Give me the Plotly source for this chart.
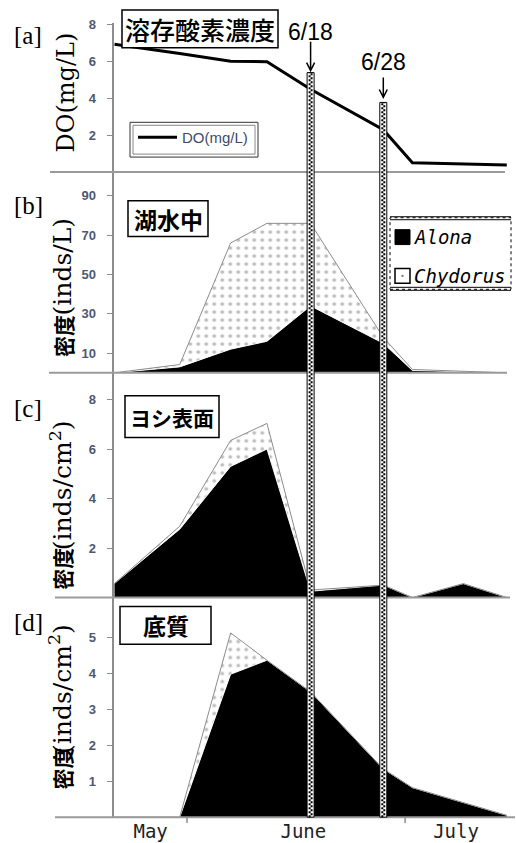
import plotly.graph_objects as go

# ---- data -------------------------------------------------------------
sample_dates = ["2013-05-22", "2013-05-31", "2013-06-07", "2013-06-12", "2013-06-18",
                "2013-06-28", "2013-07-02", "2013-07-09", "2013-07-15"]

# [a] dissolved oxygen (mg/L)
do_mgL = [6.95, 6.45, 6.02, 6.0, 4.5, 2.3, 0.5, 0.42, 0.38]

# [b] lake water (inds/L)
alona_lake = [0, 3, 12, 16, 34, 15, 1.2, 0.6, 0]
chydorus_lake = [0, 1.2, 54, 60, 42, 3, 0.5, 0.3, 0]

# [c] reed surface (inds/cm2)
alona_reed = [0.56, 2.76, 5.3, 6.0, 0.25, 0.5, 0, 0.56, 0]
chydorus_reed = [0, 0.12, 1.05, 1.04, 0.05, 0, 0, 0, 0]

# [d] sediment (inds/cm2)
alona_sed = [0, 0, 3.97, 4.36, 3.48, 1.34, 0.82, 0.4, 0.05]
chydorus_sed = [0, 0, 1.15, 0, 0, 0, 0, 0, 0]

month_centers = ["2013-05-27", "2013-06-17", "2013-07-08"]
month_names = ["May", "June", "July"]
month_starts = ["2013-06-01", "2013-07-01"]
event_dates = ["2013-06-18", "2013-06-28"]
event_labels = ["6/18", "6/28"]
x_range = ["2013-05-22", "2013-07-15"]

panel_titles = ["溶存酸素濃度", "湖水中", "ヨシ表面", "底質"]
panel_tags = ["[a]", "[b]", "[c]", "[d]"]

# ---- page geometry helpers ---------------------------------------------
W, H = 516, 843


def px(x):
    return x / W


def py(y):
    return 1 - y / H


X_DOMAIN = [px(114.3), px(506.9)]
AXIS_GREY = "#8c8c8c"
TICK_FONT = dict(family="Liberation Sans", size=13, color="#4f5872", weight="bold")
DOTS = dict(shape=".", fgcolor="#7a7a7a", bgcolor="white", size=8, solidity=0.17)

fig = go.Figure()

# [a] DO line
fig.add_trace(go.Scatter(x=sample_dates, y=do_mgL, mode="lines",
                         line=dict(color="black", width=3),
                         xaxis="x", yaxis="y", showlegend=False))

# stacked areas for [b]-[d]
stacks = [(alona_lake, chydorus_lake, "2"), (alona_reed, chydorus_reed, "3"),
          (alona_sed, chydorus_sed, "4")]
for alona, chydorus, k in stacks:
    fig.add_trace(go.Scatter(x=sample_dates, y=alona, mode="lines", stackgroup="s" + k,
                             line=dict(color="white", width=0.8), fillcolor="black",
                             xaxis="x" + k, yaxis="y" + k, showlegend=False))
    fig.add_trace(go.Scatter(x=sample_dates, y=chydorus, mode="lines", stackgroup="s" + k,
                             line=dict(color="#8c8c8c", width=1), fillcolor="white",
                             fillpattern=DOTS,
                             xaxis="x" + k, yaxis="y" + k, showlegend=False))

# axes: (top px, bottom px, y range, tick values)
panels = [(18, 168, [0, 8.11], [2, 4, 6, 8]),
          (168, 370, [0, 102.1], [10, 30, 50, 70, 90]),
          (370, 596, [0, 9.085], [2, 4, 6, 8]),
          (596, 817, [0, 6.105], [1, 2, 3, 4, 5])]

layout = dict(width=W, height=H, margin=dict(l=0, r=0, t=0, b=0),
              paper_bgcolor="white", plot_bgcolor="rgba(0,0,0,0)", showlegend=False)

for i, (top, bot, yr, tv) in enumerate(panels):
    sfx = "" if i == 0 else str(i + 1)
    layout["xaxis" + sfx] = dict(domain=X_DOMAIN, range=x_range, type="date",
                                 anchor="y" + sfx, showgrid=False, zeroline=False,
                                 showline=False, showticklabels=False, ticks="")
    layout["yaxis" + sfx] = dict(domain=[py(bot), py(top)], range=yr, anchor="x" + sfx,
                                 tickvals=tv, showgrid=False, zeroline=False,
                                 showline=True, linecolor=AXIS_GREY, linewidth=1.5,
                                 ticks="outside", ticklen=6, tickcolor=AXIS_GREY,
                                 tickfont=TICK_FONT, ticklabelstandoff=8)

layout["xaxis4"].update(showticklabels=True, tickvals=month_centers, ticktext=month_names,
                        tickfont=dict(family="DejaVu Sans Mono", size=19, color="#222"),
                        ticklabelstandoff=1)

fig.update_layout(**layout)

shapes = []
annotations = []


def note(text, x, y, size, family, color="black", xanchor="center", angle=0, weight="normal"):
    annotations.append(dict(x=px(x), y=py(y), xref="paper", yref="paper", text=text,
                            xanchor=xanchor, yanchor="middle", textangle=angle,
                            showarrow=False,
                            font=dict(family=family, size=size, color=color, weight=weight)))


# baselines between panels
for y0, xl, xr in [(168, 50, 505), (370, 49, 507), (596, 55, 510), (817, 55, 515)]:
    shapes.append(dict(type="line", xref="paper", yref="paper", x0=px(xl), x1=px(xr),
                       y0=py(y0), y1=py(y0), line=dict(color="#9a9a9a", width=2)))

# month boundary ticks on the bottom axis
for d in month_starts:
    shapes.append(dict(type="line", xref="x4", yref="paper", x0=d, x1=d,
                       y0=py(817), y1=py(823), line=dict(color=AXIS_GREY, width=1.5)))

# hatched marker columns with arrows and date labels
for d, lab, top, a0, a1, ly in zip(event_dates, event_labels, [68, 98], [37, 73], [66, 93], [27, 57]):
    shapes.append(dict(type="rect", xref="x", xsizemode="pixel", xanchor=d, x0=-3.5, x1=3.5,
                       yref="paper", y0=py(817), y1=py(top), fillcolor="white",
                       line=dict(color="black", width=1), layer="above"))
    shapes.append(dict(type="line", xref="x", xsizemode="pixel", xanchor=d, x0=-1, x1=-1,
                       yref="paper", y0=py(817), y1=py(top),
                       line=dict(color="black", width=2, dash="2px,2px")))
    shapes.append(dict(type="line", xref="x", xsizemode="pixel", xanchor=d, x0=1, x1=1,
                       yref="paper", y0=py(817), y1=py(top),
                       line=dict(color="black", width=2, dash="0px,2px,2px,0px")))
    shapes.append(dict(type="path", xref="x", xsizemode="pixel", xanchor=d, yref="paper",
                       path=f"M 0,{py(a0)} L 0,{py(a1)} M -4,{py(a1 - 8)} L 0,{py(a1)} L 4,{py(a1 - 8)}",
                       line=dict(color="black", width=1.5)))
    annotations.append(dict(x=d, xref="x", y=py(ly), yref="paper", text=lab, showarrow=False,
                            xanchor="center", yanchor="middle",
                            font=dict(family="Liberation Sans", size=23, color="black")))

# panel title boxes
boxes = [(122, 5, 278, 43, 25, 500), (128, 197, 208, 233, 23, 700),
         (125, 393, 219, 435, 21, 700), (120, 605, 211, 643, 23, 700)]
for (x0, y0, x1, y1, fs, wt), title in zip(boxes, panel_titles):
    shapes.append(dict(type="rect", xref="paper", yref="paper", x0=px(x0), x1=px(x1),
                       y0=py(y1), y1=py(y0), fillcolor="white",
                       line=dict(color="black", width=1.5)))
    note(title, (x0 + x1) / 2, (y0 + y1) / 2, fs, "Noto Sans CJK JP", weight=wt)

# panel tags
for tag, yc in zip(panel_tags, [31, 202, 406, 621]):
    note(tag, 28, yc, 25, "Liberation Serif")

# y-axis titles (rotated, read bottom to top)
note("DO(mg/L)", 66, 88, 24, "DejaVu Serif", angle=-90)
for unit, xc, cjk_y, unit_y in [("(inds/L)", 62, 333, 264),
                                ("(inds/cm<sup>2</sup>)", 61, 567, 483),
                                ("(inds/cm<sup>2</sup>)", 61, 768, 688)]:
    note("密度", xc + 1, cjk_y, 21, "Noto Sans CJK JP", angle=-90, weight="bold")
    note(unit, xc, unit_y, 25, "DejaVu Serif", angle=-90)

# legend for [a]
shapes.append(dict(type="rect", xref="paper", yref="paper", x0=px(130), x1=px(258),
                   y0=py(153), y1=py(118), fillcolor="white", line=dict(color="#333", width=1)))
shapes.append(dict(type="rect", xref="paper", yref="paper", x0=px(133), x1=px(255),
                   y0=py(150), y1=py(121), line=dict(color="#888", width=1)))
shapes.append(dict(type="line", xref="paper", yref="paper", x0=px(138), x1=px(177),
                   y0=py(133), y1=py(133), line=dict(color="black", width=3)))
note("DO(mg/L)", 180, 133, 15, "Liberation Sans", color="#3f4a6e", xanchor="left")

# legend for [b]
shapes.append(dict(type="rect", xref="paper", yref="paper", x0=px(390), x1=px(511),
                   y0=py(286), y1=py(214), fillcolor="white",
                   line=dict(color="black", width=1, dash="dot")))
for yl in [213, 216, 284, 287]:
    shapes.append(dict(type="line", xref="paper", yref="paper", x0=px(390), x1=px(511),
                       y0=py(yl), y1=py(yl), line=dict(color="black", width=1)))
shapes.append(dict(type="rect", xref="paper", yref="paper", x0=px(395), x1=px(410),
                   y0=py(241), y1=py(226), fillcolor="black", line=dict(color="black", width=1)))
shapes.append(dict(type="rect", xref="paper", yref="paper", x0=px(395), x1=px(410),
                   y0=py(280), y1=py(265), fillcolor="white", line=dict(color="black", width=1.5)))
shapes.append(dict(type="rect", xref="paper", yref="paper", x0=px(401.5), x1=px(403.5),
                   y0=py(273.5), y1=py(271.5), fillcolor="#777", line=dict(width=0)))
for name, yc in [("Alona", 233), ("Chydorus", 273)]:
    note("<i>" + name + "</i>", 412, yc, 19, "DejaVu Sans Mono", xanchor="left")

fig.update_layout(shapes=shapes, annotations=annotations)
fig.write_html("out.html")
